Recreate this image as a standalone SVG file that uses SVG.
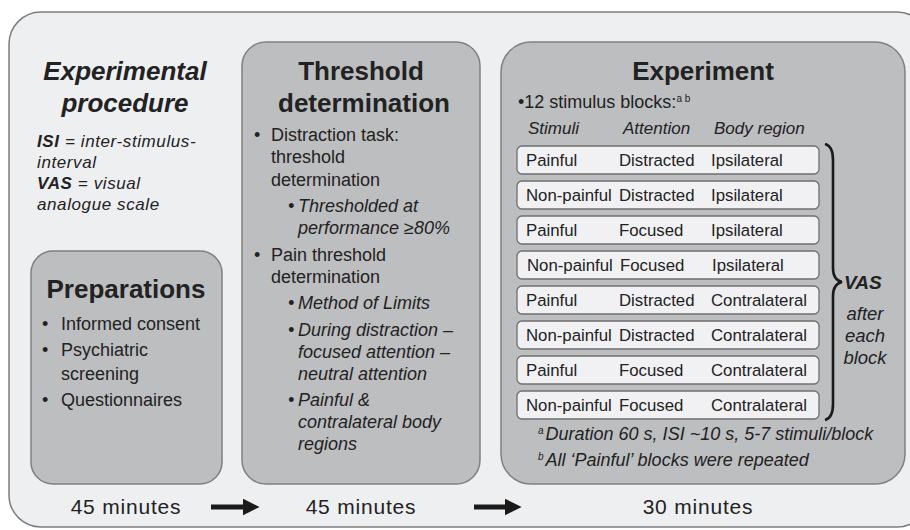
<svg xmlns="http://www.w3.org/2000/svg" width="910" height="530" viewBox="0 0 910 530">
<style>
  text { font-family: "Liberation Sans", Arial, sans-serif; fill: #222; }
  .outer { fill: #eeeff1; stroke: #7d7d7d; stroke-width: 1.5; }
  .panel { fill: #bdbec0; stroke: #808080; stroke-width: 1.5; }
  .row { fill: #f1f1f3; stroke: #6f6f6f; stroke-width: 1.3; }
  .title { font-size: 26px; font-weight: bold; text-anchor: middle; }
  .body { font-size: 18px; }
  .it { font-size: 18px; font-style: italic; }
  .leg { font-size: 17px; font-style: italic; letter-spacing: 0.6px; }
  .cell { font-size: 16.8px; }
  .hdr { font-size: 17px; font-style: italic; }
  .dur { font-size: 21px; text-anchor: middle; letter-spacing: 0.8px; }
  .arrow { stroke: #1a1a1a; stroke-width: 5; fill: none; }
</style>
<defs>
  <marker id="ah" viewBox="0 0 10 10" refX="2" refY="5" markerWidth="3.4" markerHeight="3.4" orient="auto" markerUnits="strokeWidth">
    <path d="M0,0 L10,5 L0,10 z" fill="#1a1a1a"/>
  </marker>
</defs>
<rect class="outer" x="9" y="12" width="920" height="515" rx="32"/>

<g id="legend">
  <text x="125" y="80" class="title" style="font-style:italic">Experimental</text>
  <text x="125" y="112" class="title" style="font-style:italic">procedure</text>
  <text x="37" y="147" class="leg"><tspan font-weight="bold">ISI</tspan> = inter-stimulus-</text>
  <text x="37" y="168" class="leg">interval</text>
  <text x="37" y="189" class="leg"><tspan font-weight="bold">VAS</tspan> = visual</text>
  <text x="37" y="210" class="leg">analogue scale</text>
</g>

<g id="preparations">
  <rect class="panel" x="31" y="251" width="191" height="233" rx="22"/>
  <text x="126" y="298" class="title">Preparations</text>
  <text x="42" y="330" class="body">•</text><text x="61" y="330" class="body">Informed consent</text>
  <text x="42" y="356" class="body">•</text><text x="61" y="356" class="body">Psychiatric</text>
  <text x="61" y="380" class="body">screening</text>
  <text x="42" y="406" class="body">•</text><text x="61" y="406" class="body">Questionnaires</text>
  <text x="126" y="514" class="dur">45 minutes</text>
</g>

<g id="threshold">
  <rect class="panel" x="242" y="42" width="238" height="442" rx="24"/>
  <text x="361" y="80" class="title">Threshold</text>
  <text x="364" y="112" class="title">determination</text>
  <text x="254" y="141" class="body">•</text><text x="271" y="141" class="body">Distraction task:</text>
  <text x="271" y="163" class="body">threshold</text>
  <text x="271" y="186" class="body">determination</text>
  <text x="288" y="212" class="it">•</text><text x="298" y="212" class="it">Thresholded at</text>
  <text x="298" y="234" class="it">performance ≥80%</text>
  <text x="254" y="261" class="body">•</text><text x="271" y="261" class="body">Pain threshold</text>
  <text x="271" y="283" class="body">determination</text>
  <text x="288" y="309" class="it">•</text><text x="298" y="309" class="it">Method of Limits</text>
  <text x="288" y="336" class="it">•</text><text x="298" y="336" class="it">During distraction –</text>
  <text x="298" y="358" class="it">focused attention –</text>
  <text x="298" y="380" class="it">neutral attention</text>
  <text x="288" y="406" class="it">•</text><text x="298" y="406" class="it">Painful &amp;</text>
  <text x="298" y="428" class="it">contralateral body</text>
  <text x="298" y="450" class="it">regions</text>
  <text x="361" y="514" class="dur">45 minutes</text>
</g>

<g id="experiment">
  <rect class="panel" x="501" y="42" width="404" height="442" rx="30"/>
  <text x="703" y="80" class="title">Experiment</text>
  <text x="518" y="108" class="body">•12 stimulus blocks:<tspan font-size="10" dy="-6">a b</tspan></text>
  <text x="528" y="134" class="hdr">Stimuli</text>
  <text x="623" y="134" class="hdr">Attention</text>
  <text x="714" y="134" class="hdr">Body region</text>

  <rect class="row" x="517" y="146" width="302" height="28" rx="5"/>
  <text x="526" y="166" class="cell">Painful</text><text x="619" y="166" class="cell">Distracted</text><text x="711" y="166" class="cell">Ipsilateral</text>
  <rect class="row" x="517" y="181" width="302" height="28" rx="5"/>
  <text x="526" y="201" class="cell">Non-painful</text><text x="619" y="201" class="cell">Distracted</text><text x="711" y="201" class="cell">Ipsilateral</text>
  <rect class="row" x="517" y="216" width="302" height="28" rx="5"/>
  <text x="526" y="236" class="cell">Painful</text><text x="619" y="236" class="cell">Focused</text><text x="711" y="236" class="cell">Ipsilateral</text>
  <rect class="row" x="517" y="251" width="302" height="28" rx="5"/>
  <text x="527" y="271" class="cell">Non-painful</text><text x="620" y="271" class="cell">Focused</text><text x="712" y="271" class="cell">Ipsilateral</text>
  <rect class="row" x="517" y="286" width="302" height="28" rx="5"/>
  <text x="526" y="306" class="cell">Painful</text><text x="619" y="306" class="cell">Distracted</text><text x="711" y="306" class="cell">Contralateral</text>
  <rect class="row" x="517" y="321" width="302" height="28" rx="5"/>
  <text x="526" y="341" class="cell">Non-painful</text><text x="619" y="341" class="cell">Distracted</text><text x="711" y="341" class="cell">Contralateral</text>
  <rect class="row" x="517" y="356" width="302" height="28" rx="5"/>
  <text x="526" y="376" class="cell">Painful</text><text x="619" y="376" class="cell">Focused</text><text x="711" y="376" class="cell">Contralateral</text>
  <rect class="row" x="517" y="391" width="302" height="28" rx="5"/>
  <text x="526" y="411" class="cell">Non-painful</text><text x="619" y="411" class="cell">Focused</text><text x="711" y="411" class="cell">Contralateral</text>

  <path d="M825,144 Q833,146 833,160 L833,268 Q833,280 842,282 Q833,284 833,296 L833,404 Q833,418 825,420" fill="none" stroke="#1a1a1a" stroke-width="2.6"/>
  <text x="844" y="289" class="it" style="font-size:19px;font-weight:bold">VAS</text>
  <text x="865" y="320" class="it" style="font-size:18.5px;text-anchor:middle">after</text>
  <text x="865" y="342" class="it" style="font-size:18.5px;text-anchor:middle">each</text>
  <text x="865" y="364" class="it" style="font-size:18.5px;text-anchor:middle">block</text>

  <text x="538" y="440" class="it"><tspan font-size="10" dy="-6">a</tspan><tspan dy="6" dx="2">Duration 60 s, ISI ~10 s, 5-7 stimuli/block</tspan></text>
  <text x="538" y="466" class="it"><tspan font-size="10" dy="-6">b</tspan><tspan dy="6" dx="2">All ‘Painful’ blocks were repeated</tspan></text>
  <text x="698" y="514" class="dur">30 minutes</text>
</g>

<g id="connectors">
  <line class="arrow" x1="211" y1="507" x2="246" y2="507" marker-end="url(#ah)"/>
  <line class="arrow" x1="474" y1="507" x2="508" y2="507" marker-end="url(#ah)"/>
</g>
</svg>
